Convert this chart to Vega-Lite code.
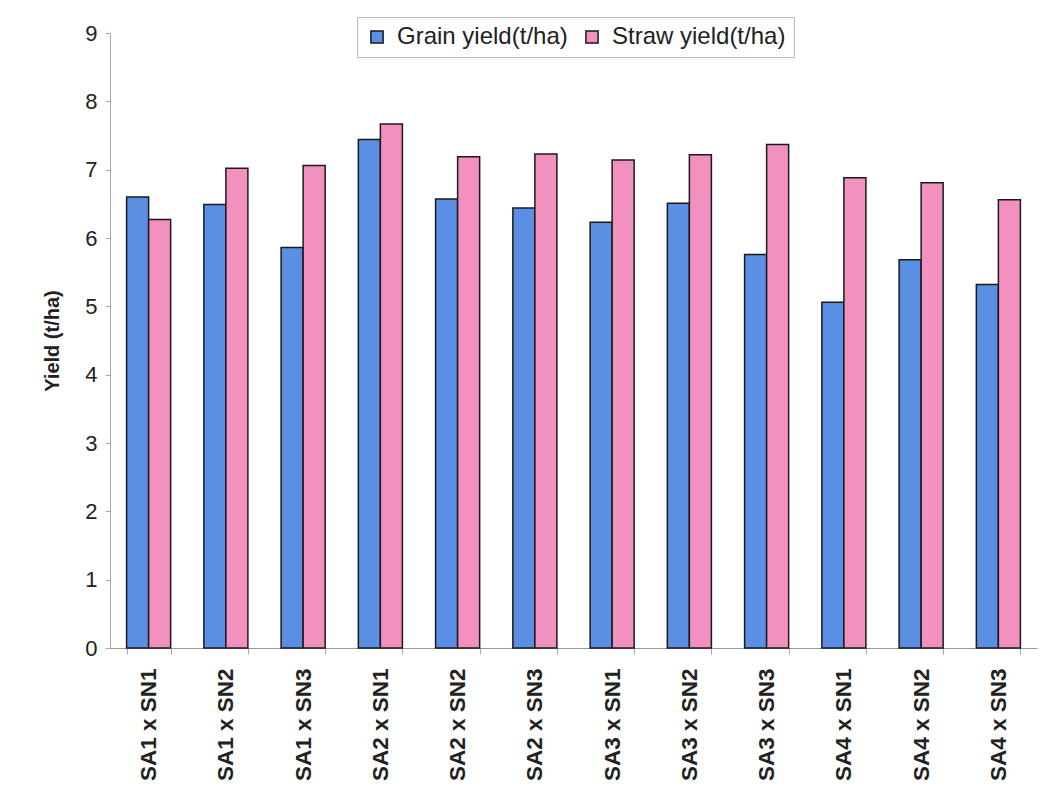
{
  "$schema": "https://vega.github.io/schema/vega-lite/v6.json",
  "width": 927,
  "height": 615,
  "autosize": "none",
  "padding": {"left": 110, "top": 33, "right": 16, "bottom": 143},
  "background": "white",
  "config": {
    "font": "Liberation Sans",
    "view": {"stroke": null}
  },
  "data": {
    "values": [
      {"treatment": "SA1 x SN1", "series": "Grain yield(t/ha)", "yield": 6.6},
      {"treatment": "SA1 x SN1", "series": "Straw yield(t/ha)", "yield": 6.27},
      {"treatment": "SA1 x SN2", "series": "Grain yield(t/ha)", "yield": 6.49},
      {"treatment": "SA1 x SN2", "series": "Straw yield(t/ha)", "yield": 7.02},
      {"treatment": "SA1 x SN3", "series": "Grain yield(t/ha)", "yield": 5.86},
      {"treatment": "SA1 x SN3", "series": "Straw yield(t/ha)", "yield": 7.06},
      {"treatment": "SA2 x SN1", "series": "Grain yield(t/ha)", "yield": 7.44},
      {"treatment": "SA2 x SN1", "series": "Straw yield(t/ha)", "yield": 7.67},
      {"treatment": "SA2 x SN2", "series": "Grain yield(t/ha)", "yield": 6.57},
      {"treatment": "SA2 x SN2", "series": "Straw yield(t/ha)", "yield": 7.19},
      {"treatment": "SA2 x SN3", "series": "Grain yield(t/ha)", "yield": 6.44},
      {"treatment": "SA2 x SN3", "series": "Straw yield(t/ha)", "yield": 7.23},
      {"treatment": "SA3 x SN1", "series": "Grain yield(t/ha)", "yield": 6.23},
      {"treatment": "SA3 x SN1", "series": "Straw yield(t/ha)", "yield": 7.14},
      {"treatment": "SA3 x SN2", "series": "Grain yield(t/ha)", "yield": 6.51},
      {"treatment": "SA3 x SN2", "series": "Straw yield(t/ha)", "yield": 7.22},
      {"treatment": "SA3 x SN3", "series": "Grain yield(t/ha)", "yield": 5.76},
      {"treatment": "SA3 x SN3", "series": "Straw yield(t/ha)", "yield": 7.37},
      {"treatment": "SA4 x SN1", "series": "Grain yield(t/ha)", "yield": 5.06},
      {"treatment": "SA4 x SN1", "series": "Straw yield(t/ha)", "yield": 6.88},
      {"treatment": "SA4 x SN2", "series": "Grain yield(t/ha)", "yield": 5.68},
      {"treatment": "SA4 x SN2", "series": "Straw yield(t/ha)", "yield": 6.81},
      {"treatment": "SA4 x SN3", "series": "Grain yield(t/ha)", "yield": 5.32},
      {"treatment": "SA4 x SN3", "series": "Straw yield(t/ha)", "yield": 6.56}
    ]
  },
  "mark": {"type": "bar", "stroke": "#1a1a1a", "strokeWidth": 1.5},
  "encoding": {
    "x": {
      "field": "treatment",
      "type": "nominal",
      "sort": null,
      "scale": {"paddingInner": 0.43, "paddingOuter": 0.215},
      "axis": {
        "title": null,
        "labelAngle": -90,
        "labelFontSize": 22.5,
        "labelFontWeight": "bold",
        "labelColor": "#222222",
        "labelPadding": 14,
        "tickBand": "extent",
        "tickSize": 6,
        "tickColor": "#aaaaaa",
        "domainColor": "#999999"
      }
    },
    "xOffset": {"field": "series", "type": "nominal"},
    "y": {
      "field": "yield",
      "type": "quantitative",
      "scale": {"domain": [0, 9], "nice": false},
      "axis": {
        "title": "Yield (t/ha)",
        "titleFontSize": 20,
        "titleFontWeight": "bold",
        "titleColor": "#222222",
        "titlePadding": 22,
        "values": [0, 1, 2, 3, 4, 5, 6, 7, 8, 9],
        "labelFontSize": 22,
        "labelColor": "#222222",
        "labelPadding": 8,
        "tickSize": 5,
        "tickColor": "#aaaaaa",
        "domainColor": "#aaaaaa",
        "grid": false
      }
    },
    "color": {
      "field": "series",
      "type": "nominal",
      "scale": {"domain": ["Grain yield(t/ha)", "Straw yield(t/ha)"], "range": ["#5B8FE3", "#F291C0"]},
      "legend": {
        "title": null,
        "orient": "none",
        "legendX": 247,
        "legendY": -16,
        "direction": "horizontal",
        "symbolType": "square",
        "symbolSize": 150,
        "symbolStrokeColor": "#1a1a1a",
        "symbolStrokeWidth": 1.5,
        "labelFontSize": 24,
        "labelLimit": 400,
        "labelColor": "#222222",
        "labelOffset": 8,
        "columnPadding": 12,
        "padding": 8,
        "strokeColor": "#bbbbbb",
        "fillColor": "white"
      }
    }
  }
}
